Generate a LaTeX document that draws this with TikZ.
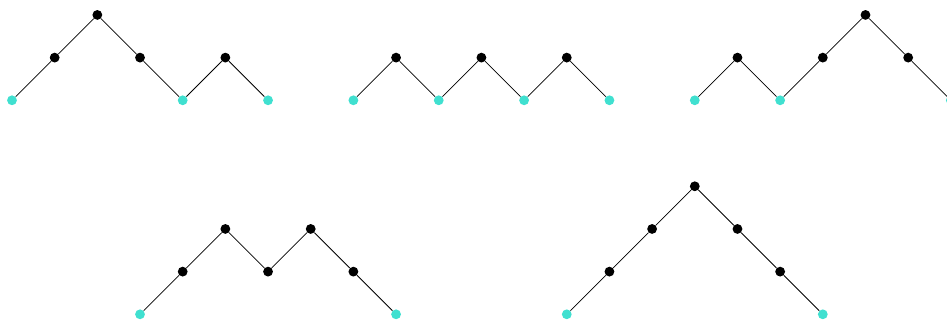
\documentclass[tikz,border=0pt]{standalone}
\definecolor{dyckc}{RGB}{64,224,208}
\tikzset{
  dot/.style={circle, inner sep=0pt, minimum size=0.23cm, draw=none},
  edge/.style={draw=black, line width=0.5pt}
}
\newcommand\dyckpath[4]{%
  \foreach \h [count=\i from 0] in {#4} {
    \ifnum\h=0 \def\dotcol{dyckc}\else\def\dotcol{black}\fi
    \node[dot, fill=\dotcol] (#1\i) at ({#2+\i},{#3+\h}) {};
  }
  \foreach \i [evaluate=\i as \j using int(\i-1)] in {1,...,6}
    \draw[edge] (#1\j) -- (#1\i);
}
\begin{document}
\begin{tikzpicture}[x=1cm,y=1cm]
\useasboundingbox (-0.281,-5.15) rectangle (21.91,2.35);
\dyckpath{a}{0}{0}{0,1,2,1,0,1,0}
\dyckpath{b}{8}{0}{0,1,0,1,0,1,0}
\dyckpath{c}{16}{0}{0,1,0,1,2,1,0}
\dyckpath{d}{3}{-5.015}{0,1,2,1,2,1,0}
\dyckpath{e}{13}{-5.015}{0,1,2,3,2,1,0}
\end{tikzpicture}
\end{document}
